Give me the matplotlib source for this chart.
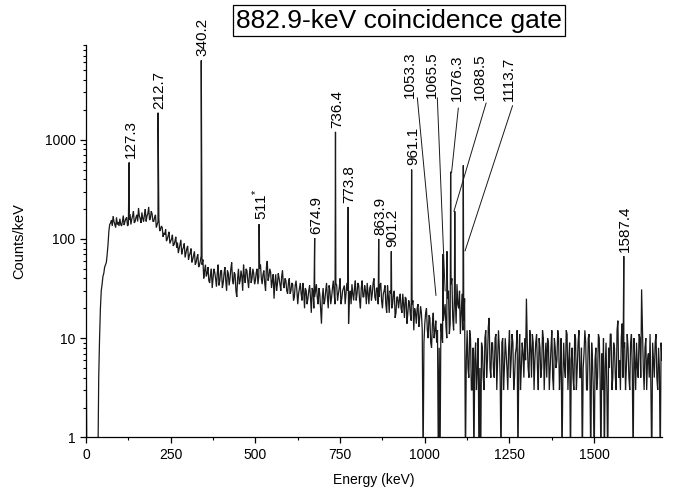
import numpy as np
import matplotlib
matplotlib.use("Agg")
import matplotlib.pyplot as plt

plt.rcParams['font.family'] = ['Liberation Sans', 'DejaVu Sans']
plt.rcParams['mathtext.fontset'] = 'custom'
plt.rcParams['mathtext.rm'] = 'Liberation Sans'

# ---- data -------------------------------------------------------------
# background spectrum: values at 0, 5, 10 ... 1700 keV (counts/keV)
bg_start, bg_step = 0, 5
bg_counts = [
    16, 0.5, 0.5, 0.5, 0.5, 0.5, 0.5, 0.5, 10, 30, 42, 52, 58, 88, 140, 155, 170, 140, 165, 148,
    160, 135, 172, 150, 165, 140, 178, 158, 190, 150, 175, 205, 160, 185, 150, 200, 170, 210, 160, 180,
    150, 175, 140, 160, 125, 130, 115, 125, 100, 118, 95, 110, 88, 105, 92, 80, 98, 78, 90, 72,
    85, 68, 80, 62, 75, 58, 70, 55, 68, 62, 48, 42, 52, 36, 50, 40, 46, 33, 55, 38,
    48, 36, 52, 30, 45, 40, 58, 35, 44, 26, 50, 38, 42, 55, 36, 48, 32, 52, 40, 45,
    38, 50, 42, 55, 35, 48, 30, 60, 42, 46, 38, 25, 44, 35, 40, 30, 48, 32, 38, 28,
    40, 30, 35, 26, 38, 22, 32, 28, 36, 20, 30, 25, 34, 18, 30, 26, 35, 22, 28, 14,
    32, 24, 36, 20, 30, 26, 38, 22, 34, 28, 40, 25, 32, 22, 36, 14, 30, 35, 24, 38,
    28, 34, 20, 38, 26, 30, 36, 22, 34, 28, 40, 24, 32, 26, 36, 20, 30, 22, 34, 18,
    28, 22, 30, 18, 26, 24, 20, 28, 16, 25, 18, 22, 15, 24, 20, 14, 22, 16, 18, 0.5,
    14, 20, 10, 16, 8, 18, 12, 9, 0.5, 0.5, 11, 15, 22, 10, 30, 14, 40, 12, 25, 35,
    20, 11, 28, 15, 0.5, 12, 4, 10, 3, 0.5, 9, 5, 0.5, 0.5, 8, 3, 12, 6, 16, 4,
    9, 4, 11, 6, 8, 0.5, 10, 5, 7, 3, 12, 6, 9, 4, 8, 0.5, 11, 5, 7, 10,
    25, 5, 12, 4, 9, 6, 11, 3, 8, 5, 10, 6, 4, 9, 5, 12, 3, 8, 6, 10,
    5, 0.5, 9, 4, 11, 6, 0.5, 8, 3, 10, 5, 12, 4, 0.5, 7, 9, 3, 11, 0.5, 6,
    0.5, 8, 4, 10, 0.5, 3, 0.5, 9, 0.5, 5, 11, 4, 8, 3, 15, 6, 10, 4, 9, 5,
    8, 3, 11, 0.5, 6, 9, 4, 10, 31, 5, 8, 3, 7, 11, 0.5, 6, 9, 4, 8, 0.5,
    6,
]
# in-between channels: values at 2.5, 7.5 ... 1697.5 keV (counts/keV)
mid_start = 2.5
mid_counts = [
    0.5, 0.5, 0.5, 0.5, 0.5, 0.5, 0.5, 4, 20, 35, 45, 55, 70, 120, 145, 135, 150, 130, 140, 135,
    140, 150, 138, 160, 135, 155, 140, 170, 145, 165, 150, 170, 145, 160, 175, 150, 180, 155, 190, 150,
    165, 130, 150, 120, 135, 105, 110, 95, 108, 90, 100, 85, 95, 82, 72, 88, 70, 82, 65, 80,
    62, 72, 58, 68, 55, 65, 52, 60, 55, 40, 55, 45, 38, 44, 32, 50, 40, 45, 34, 48,
    32, 45, 38, 48, 34, 50, 38, 46, 30, 40, 35, 48, 30, 42, 50, 38, 45, 36, 50, 35,
    46, 35, 50, 40, 44, 36, 52, 38, 50, 32, 44, 36, 30, 45, 35, 42, 35, 40, 30, 36,
    28, 36, 24, 34, 30, 28, 36, 24, 30, 32, 22, 30, 26, 32, 20, 30, 26, 32, 20, 26,
    22, 30, 26, 34, 22, 32, 28, 36, 24, 32, 22, 30, 34, 28, 30, 26, 22, 28, 32, 24,
    36, 24, 32, 26, 34, 22, 28, 32, 24, 36, 26, 32, 22, 34, 24, 28, 34, 18, 26, 30,
    20, 28, 16, 26, 20, 28, 18, 22, 26, 14, 24, 17, 22, 12, 18, 20, 13, 21, 12, 9,
    18, 12, 17, 9, 14, 10, 15, 12, 8, 14, 9, 18, 13, 25, 11, 35, 16, 28, 14, 22,
    30, 18, 12, 25, 6, 5, 12, 3, 8, 6, 3, 10, 5, 9, 4, 10, 4, 13, 5, 9,
    5, 10, 3, 12, 4, 9, 3, 10, 5, 8, 4, 11, 3, 7, 12, 6, 3, 9, 4, 6,
    9, 4, 8, 11, 3, 9, 5, 10, 4, 12, 3, 9, 10, 3, 8, 4, 10, 5, 12, 3,
    10, 4, 5, 12, 3, 9, 6, 4, 11, 3, 9, 4, 8, 5, 12, 3, 10, 4, 9, 3,
    6, 3, 11, 4, 7, 10, 5, 3, 8, 11, 3, 9, 4, 12, 4, 3, 14, 8, 3, 11,
    4, 9, 5, 10, 3, 5, 11, 4, 12, 3, 10, 6, 4, 3, 9, 4, 11, 3, 5, 9,
]

# gamma-ray peaks (energy in keV, peak height in counts/keV)
peak_energy = [127.3, 212.7, 340.2, 511, 674.9, 736.4, 773.8, 863.9, 901.2,
               961.1, 1053.3, 1065.5, 1076.3, 1088.5, 1113.7, 1587.4]
peak_height = [590, 1870, 6300, 141, 102, 1200, 210, 100, 75,
               500, 70, 75, 475, 190, 550, 67]
peak_label = ["127.3", "212.7", "340.2", "511$^{*}$", "674.9", "736.4", "773.8",
              "863.9", "901.2", "961.1", "1053.3", "1065.5", "1076.3", "1088.5",
              "1113.7", "1587.4"]

# labels that sit away from their peak with a leader line
leader_labels = ["1053.3", "1065.5", "1076.3", "1088.5", "1113.7"]
leader_text_x = [956, 1020, 1094, 1163, 1249]
leader_text_y = [2640, 2640, 2450, 2500, 2450]
leader_start = [(978, 2640), (1037, 2640), (1099, 2080), (1181, 2340), (1259, 2200)]
leader_end = [(1033, 27), (1060, 30), (1079, 465), (1086, 190), (1119, 76)]

x_ticks = [0, 250, 500, 750, 1000, 1250, 1500]
y_ticks = [1, 10, 100, 1000]

# ---- build the spectrum ----------------------------------------------
bg_energy = bg_start + bg_step * np.arange(len(bg_counts))
mid_energy = mid_start + bg_step * np.arange(len(mid_counts))
energy = np.concatenate([bg_energy, mid_energy, np.array(peak_energy, float)])
counts = np.concatenate([np.array(bg_counts, float), np.array(mid_counts, float),
                         np.array(peak_height, float)])
order = np.argsort(energy, kind="stable")
energy, counts = energy[order], counts[order]

# ---- figure -----------------------------------------------------------
fig = plt.figure(figsize=(6.81, 4.92), dpi=100)
ax = fig.add_axes([0.1263, 0.111, 0.8457, 0.7975])

ax.plot(energy, counts, color='#1a1a1a', lw=0.9, solid_joinstyle='miter')
ax.set_yscale('log')
ax.set_xlim(0, 1700)
ax.set_ylim(1, 9000)

ax.spines['top'].set_visible(False)
ax.spines['right'].set_visible(False)
for s in ('left', 'bottom'):
    ax.spines[s].set_linewidth(0.9)

ax.set_xticks(x_ticks)
ax.set_xticks(np.array(x_ticks[:-1]) + 125, minor=True)
ax.set_yticks(y_ticks)
ax.set_yticklabels([str(v) for v in y_ticks])
ax.yaxis.set_minor_locator(matplotlib.ticker.LogLocator(base=10, subs=np.arange(2, 10)))
ax.yaxis.set_minor_formatter(matplotlib.ticker.NullFormatter())
ax.tick_params(which='major', direction='out', length=4.5, width=0.9, labelsize=10, pad=3)
ax.tick_params(which='minor', direction='out', length=2.5, width=0.8)

ax.set_xlabel('Energy (keV)', fontsize=10, labelpad=8)
ax.set_ylabel('Counts/keV', fontsize=10.5, labelpad=13)

# peak labels
for e, h, lab in zip(peak_energy, peak_height, peak_label):
    if lab in leader_labels:
        continue
    ax.annotate(lab, xy=(e, h), xytext=(1, 3), textcoords='offset points',
                rotation=90, ha='center', va='bottom', fontsize=11)

for lab, tx, ty, (sx, sy), (ex, ey) in zip(leader_labels, leader_text_x, leader_text_y,
                                           leader_start, leader_end):
    ax.text(tx, ty, lab, rotation=90, ha='center', va='bottom', fontsize=11)
    ax.plot([sx, ex], [sy, ey], color='#1a1a1a', lw=0.7, clip_on=False)

fig.text(0.586, 0.958, '882.9-keV coincidence gate', ha='center', va='center',
         fontsize=19, bbox=dict(boxstyle='square,pad=0.12', fc='white', ec='black', lw=0.9))

fig.savefig('out.png', dpi=100)
